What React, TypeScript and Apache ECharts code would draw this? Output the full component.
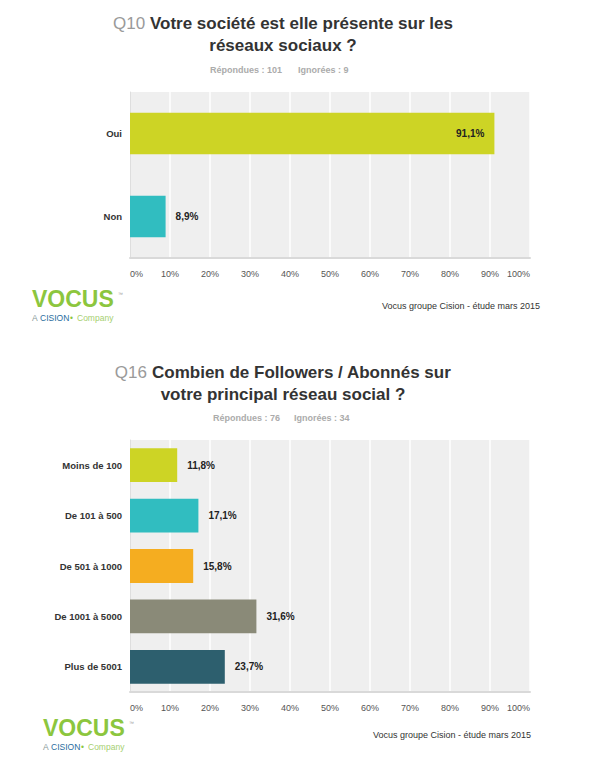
import * as echarts from 'echarts';
import { useEffect, useRef } from 'react';

// Q10
const q10Categories = ['Oui', 'Non'];
const q10Values = [91.1, 8.9];
const q10Answered = 'Répondues : 101';
const q10Skipped = 'Ignorées : 9';

// Q16
const q16Categories = ['Moins de 100', 'De 101 à 500', 'De 501 à 1000', 'De 1001 à 5000', 'Plus de 5001'];
const q16Values = [11.8, 17.1, 15.8, 31.6, 23.7];
const q16Answered = 'Répondues : 76';
const q16Skipped = 'Ignorées : 34';

// percent axis ticks
const tickMin = 0;
const tickMax = 100;
const tickStep = 10;

const credit = 'Vocus groupe Cision - étude mars 2015';

const q10Colors = ['#cdd425', '#31bdc0'];
const q16Colors = ['#cdd425', '#31bdc0', '#f5ad20', '#8a8a78', '#2d5f6e'];

const FONT = '"Liberation Sans", Arial, Helvetica, sans-serif';

const pct = (v: number) => v.toFixed(1).replace('.', ',') + '%';

function titleLines(q: string, line1: string, line2: string, y: number) {
  return [
    {
      type: 'text',
      x: 283,
      y,
      style: {
        text: `{q|${q}} {t|${line1}}`,
        textAlign: 'center',
        textVerticalAlign: 'middle',
        fontFamily: FONT,
        fontSize: 17,
        rich: {
          q: { fontFamily: FONT, fontSize: 17, fill: '#9a9a9a' },
          t: { fontFamily: FONT, fontSize: 17, fontWeight: 'bold', fill: '#333' },
        },
      },
    },
    {
      type: 'text',
      x: 283,
      y: y + 22,
      style: {
        text: line2,
        textAlign: 'center',
        textVerticalAlign: 'middle',
        fontFamily: FONT,
        fontSize: 17,
        fontWeight: 'bold',
        fill: '#333',
      },
    },
  ];
}

function stats(answered: string, skipped: string, x1: number, x2: number, y: number) {
  const base = { fontFamily: FONT, fontSize: 9, fontWeight: 'bold', fill: '#ababab', textVerticalAlign: 'middle' };
  return [
    { type: 'text', x: x1, y, style: { ...base, text: answered, textAlign: 'left' } },
    { type: 'text', x: x2, y, style: { ...base, text: skipped, textAlign: 'left' } },
  ];
}

function logo(x: number, y: number) {
  const small = { fontFamily: FONT, fontSize: 8.5, textVerticalAlign: 'middle' };
  const sy = 18;
  return {
    type: 'group',
    x,
    y,
    children: [
      {
        type: 'text',
        x: 0,
        y: -1,
        style: {
          text: 'VOCUS',
          fontFamily: FONT,
          fontSize: 23,
          fontWeight: 'bold',
          fill: '#8cc63e',
          textVerticalAlign: 'middle',
        },
      },
      {
        type: 'text',
        x: 86,
        y: -9,
        style: { text: '™', fontFamily: FONT, fontSize: 5, fill: '#999' },
      },
      { type: 'text', x: 0, y: sy, style: { ...small, text: 'A', fill: '#8a9a9a' } },
      { type: 'text', x: 8, y: sy, style: { ...small, text: 'CISION', fill: '#2a6d9e' } },
      { type: 'text', x: 38, y: sy, style: { ...small, text: '•', fill: '#8cc63e' } },
      { type: 'text', x: 45, y: sy, style: { ...small, text: 'Company', fill: '#a6cf70' } },
    ],
  };
}

function creditText(right: number, y: number) {
  return {
    type: 'text',
    x: right,
    y,
    style: {
      text: credit,
      fontFamily: FONT,
      fontSize: 9,
      fill: '#333',
      textAlign: 'right',
      textVerticalAlign: 'middle',
    },
  };
}

function valueAxis(gridIndex: number) {
  return {
    type: 'value',
    gridIndex,
    min: tickMin,
    max: tickMax,
    interval: tickStep,
    axisLine: { show: true, lineStyle: { color: '#d9d9d9', width: 2 } },
    axisTick: { show: false },
    splitLine: { show: true, lineStyle: { color: '#ffffff', width: 1.5 } },
    axisLabel: {
      formatter: '{value}%',
      fontFamily: FONT,
      fontSize: 9,
      color: '#555',
      margin: 11,
      alignMinLabel: 'left',
      alignMaxLabel: 'right',
    },
  };
}

function categoryAxis(gridIndex: number, data: string[]) {
  return {
    type: 'category',
    gridIndex,
    data,
    inverse: true,
    axisLine: { show: true, lineStyle: { color: '#dedede', width: 1 } },
    axisTick: { show: false },
    axisLabel: {
      fontFamily: FONT,
      fontSize: 9.5,
      fontWeight: 'bold',
      color: '#333',
      margin: 8,
    },
  };
}

function barSeries(index: number, values: number[], colors: string[], gap: string) {
  return {
    type: 'bar',
    xAxisIndex: index,
    yAxisIndex: index,
    barCategoryGap: gap,
    label: {
      show: true,
      position: 'right',
      distance: 10,
      fontFamily: FONT,
      fontSize: 10,
      fontWeight: 'bold',
      color: '#222',
      formatter: (p: any) => pct(p.value),
    },
    data: values.map((v, i) => ({
      value: v,
      itemStyle: { color: colors[i % colors.length] },
      ...(v > 60 ? { label: { position: 'insideRight', distance: 10 } } : {}),
    })),
  };
}

export default function App() {
  const chartRef = useRef<HTMLDivElement>(null);

  useEffect(() => {
    if (!chartRef.current) return;
    const chart = echarts.init(chartRef.current, undefined, { renderer: 'svg' });

    chart.setOption({
      animation: false,
      backgroundColor: '#ffffff',
      grid: [
        { left: 130, width: 400, top: 92, height: 166, show: true, backgroundColor: '#efefef', borderWidth: 0 },
        { left: 130, width: 400, top: 440, height: 252, show: true, backgroundColor: '#efefef', borderWidth: 0 },
      ],
      xAxis: [valueAxis(0), valueAxis(1)],
      yAxis: [categoryAxis(0, q10Categories), categoryAxis(1, q16Categories)],
      series: [
        barSeries(0, q10Values, q10Colors, '50%'),
        barSeries(1, q16Values, q16Colors, '33%'),
      ],
      graphic: [
        ...titleLines('Q10', 'Votre société est elle présente sur les', 'réseaux sociaux ?', 23),
        ...stats(q10Answered, q10Skipped, 210, 298, 70),
        logo(32, 300),
        creditText(540, 306),
        ...titleLines('Q16', 'Combien de Followers / Abonnés sur', 'votre principal réseau social ?', 372),
        ...stats(q16Answered, q16Skipped, 213, 294, 418),
        logo(43, 729),
        creditText(531, 735),
      ],
    });

    return () => {
      chart.dispose();
    };
  }, []);

  return (
    <div
      ref={chartRef}
      style={{ position: 'absolute', left: 0, top: 0, width: 600, height: 759 }}
    />
  );
}
